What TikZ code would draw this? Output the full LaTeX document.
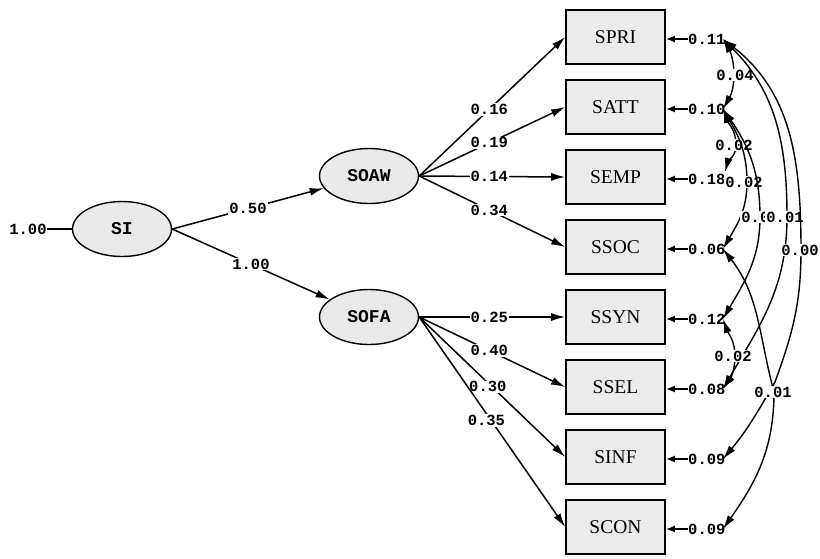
\documentclass[tikz,border=0pt]{standalone}
\usepackage{fontspec}
\usetikzlibrary{arrows.meta,shapes.geometric}
\newfontfamily\monofam{Liberation Mono}
\newfontfamily\seriffam{Liberation Serif}
\definecolor{boxgray}{HTML}{EBEBEB}
\definecolor{ovalgray}{HTML}{E9E9E9}
\tikzset{
  latent/.style={ellipse, draw, line width=1.4pt, fill=ovalgray,
    minimum width=99pt, minimum height=55pt, inner sep=0pt,
    font=\monofam\bfseries\fontsize{18}{18}\selectfont},
  observed/.style={rectangle, draw, line width=1.6pt, fill=boxgray,
    minimum width=99pt, minimum height=54pt, inner sep=0pt,
    font=\seriffam\fontsize{19.5}{20}\selectfont},
  coef/.style={fill=white, inner sep=1pt,
    font=\monofam\bfseries\fontsize{15.5}{16}\selectfont},
  errlab/.style={inner sep=0pt, anchor=west,
    font=\monofam\bfseries\fontsize{15.5}{16}\selectfont},
  plain/.style={line width=1.5pt},
  effect/.style={line width=1.5pt, -{Latex[length=14pt,width=8pt]}},
  errarrow/.style={line width=2pt, -{Latex[length=9pt,width=7pt]}},
  covar/.style={line width=1.4pt,
    {Latex[length=14pt,width=8pt]}-{Latex[length=14pt,width=8pt]}},
}
\begin{document}
\begin{tikzpicture}[x=1pt,y=1pt]
\useasboundingbox (0,0) rectangle (820,-558);

% latent variables
\node[latent] (SI)   at (122,-229) {SI};
\node[latent] (SOAW) at (369,-176) {SOAW};
\node[latent] (SOFA) at (369,-317) {SOFA};

% observed indicators
\node[observed] (SPRI) at (615.5,-37)  {SPRI};
\node[observed] (SATT) at (615.5,-107) {SATT};
\node[observed] (SEMP) at (615.5,-177) {SEMP};
\node[observed] (SSOC) at (615.5,-247) {SSOC};
\node[observed] (SSYN) at (615.5,-317) {SSYN};
\node[observed] (SSEL) at (615.5,-387) {SSEL};
\node[observed] (SINF) at (615.5,-457) {SINF};
\node[observed] (SCON) at (615.5,-527) {SCON};

% variance of SI
\node[errlab, anchor=center] (vin) at (28,-229) {1.00};
\draw[plain] (vin.east) -- (SI.west);

% second-order loadings
\draw[effect] (SI.east) -- node[coef] (c1) {0.50} (SOAW);
\draw[effect] (SI.east) -- node[coef] (c2) {1.00} (SOFA);

% first-order loadings
\draw[effect] (SOAW.east) -- node[coef,pos=0.48] (c3) {0.16} (SPRI.west);
\draw[effect] (SOAW.east) -- node[coef,pos=0.48] (c4) {0.19} (SATT.west);
\draw[effect] (SOAW.east) -- node[coef,pos=0.48] (c5) {0.14} (SEMP.west);
\draw[effect] (SOAW.east) -- node[coef,pos=0.48] (c6) {0.34} (SSOC.west);
\draw[effect] (SOFA.east) -- node[coef,pos=0.48] (c7) {0.25} (SSYN.west);
\draw[effect] (SOFA.east) -- node[coef,pos=0.48] (c8) {0.40} (SSEL.west);
\draw[effect] (SOFA.east) -- node[coef,pos=0.47,yshift=-4pt] (c9) {0.30} (SINF.west);
\draw[effect] (SOFA.east) -- node[coef,pos=0.46,yshift=-7pt] (c10) {0.35} (SCON.west);

% error variances
\node[errlab] (e1) at (688,-39)  {0.11};
\node[errlab] (e2) at (688,-109) {0.10};
\node[errlab] (e3) at (688,-179) {0.18};
\node[errlab] (e4) at (688,-249) {0.06};
\node[errlab] (e5) at (688,-319) {0.12};
\node[errlab] (e6) at (688,-389) {0.08};
\node[errlab] (e7) at (688,-459) {0.09};
\node[errlab] (e8) at (688,-529) {0.09};
\foreach \e/\b in {e1/SPRI,e2/SATT,e3/SEMP,e4/SSOC,e5/SSYN,e6/SSEL,e7/SINF,e8/SCON}
  \draw[errarrow] (\e.west) -- (\b.east |- \e.west);

% ends of the error covariance curves
\coordinate (t1) at (723,-39);
\coordinate (t2) at (723,-109);
\coordinate (t3) at (725,-172);
\coordinate (t4) at (723,-249);
\coordinate (t5) at (723,-319);
\coordinate (t6) at (723,-389);
\coordinate (t7) at (723,-459);
\coordinate (t8) at (723,-529);

% apexes of the curves
\coordinate (a1) at (734,-75);
\coordinate (a2) at (736,-145);
\coordinate (a3) at (747,-182);
\coordinate (a4) at (760,-217);
\coordinate (a5) at (787,-217);
\coordinate (a6) at (801,-250);
\coordinate (a6b) at (775,-382);
\coordinate (a7) at (735,-356);
\coordinate (a8) at (774,-392);

% error covariances
\draw[covar] (t1) to[out=-60,in=90] (a1) to[out=-90,in=60] (t2);
\node[coef] (k1) at (735,-75) {0.04};
\draw[covar] (t2) to[out=-70,in=90] (a2) to[out=-90,in=75] (t3);
\node[coef] (k2) at (734,-145) {0.02};
\draw[covar] (t2) to[out=-60,in=90] (a3) to[out=-90,in=60] (t4);
\node[coef] (k3) at (744,-182) {0.02};
\draw[covar] (t2) to[out=-55,in=90] (a4) to[out=-90,in=60] (t5);
\node[coef] (k4) at (760,-217) {0.00};
\draw[covar] (t1) to[out=-45,in=90] (a5) to[out=-90,in=60] (t6);
\node[coef] (k5) at (785,-217) {0.01};
\draw[covar] (t1) to[out=-38,in=90] (a6) to[out=-90,in=70] (a6b)
  to[out=-120,in=50] (t7);
\node[coef] (k6) at (800,-250) {0.00};
\draw[covar] (t5) to[out=-70,in=90] (a7) to[out=-90,in=55] (t6);
\node[coef] (k7) at (733,-356) {0.02};
\draw[covar] (t4) to[out=-52,in=105] (a8) to[out=-90,in=55] (t8);
\node[coef] (k8) at (773,-392) {0.01};
\end{tikzpicture}
\end{document}
